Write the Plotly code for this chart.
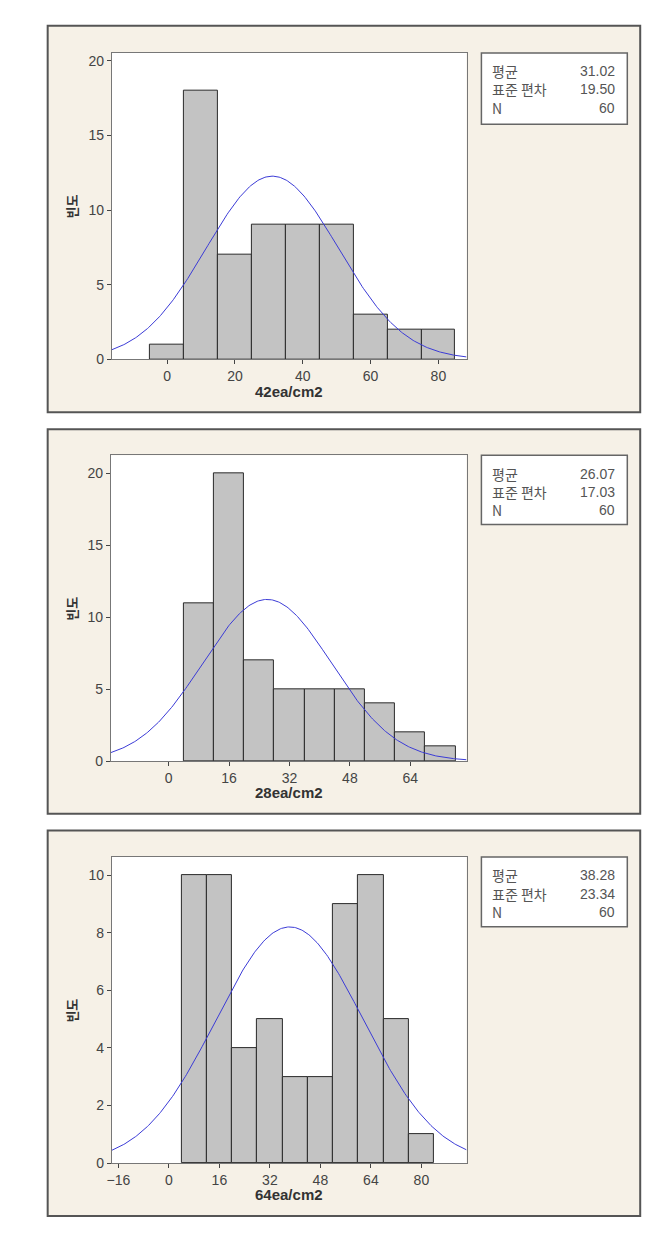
import numpy as np
import plotly.graph_objects as go

W, H = 668, 1234

# ---- data ----
titles = ["42ea/cm2", "28ea/cm2", "64ea/cm2"]
centers_1 = [0, 10, 20, 30, 40, 50, 60, 70, 80]
counts_1 = [1, 18, 7, 9, 9, 9, 3, 2, 2]
centers_2 = [8, 16, 24, 32, 40, 48, 56, 64, 72]
counts_2 = [11, 20, 7, 5, 5, 5, 4, 2, 1]
centers_3 = [8, 16, 24, 32, 40, 48, 56, 64, 72, 80]
counts_3 = [10, 10, 4, 5, 3, 3, 9, 10, 5, 1]
bin_widths = [10, 8, 8]
means = [31.02, 26.07, 38.28]
stdevs = [19.50, 17.03, 23.34]
ns = [60, 60, 60]
mean_labels = ["31.02", "26.07", "38.28"]
sd_labels = ["19.50", "17.03", "23.34"]
n_labels = ["60", "60", "60"]
xticks_1 = [0, 20, 40, 60, 80]
xticks_2 = [0, 16, 32, 48, 64]
xticks_3 = [-16, 0, 16, 32, 48, 64, 80]
yticks_1 = [0, 5, 10, 15, 20]
yticks_2 = [0, 5, 10, 15, 20]
yticks_3 = [0, 2, 4, 6, 8, 10]

centers = [centers_1, centers_2, centers_3]
counts = [counts_1, counts_2, counts_3]
xticks = [xticks_1, xticks_2, xticks_3]
yticks = [yticks_1, yticks_2, yticks_3]

# ---- layout geometry (pixels) ----
frames = [(43, 26, 640, 415), (43, 432, 640, 819), (43, 836, 640, 1224)]
plots = [(107.7, 53, 465, 361.7), (106.7, 458.3, 465, 766), (107.7, 862.7, 465, 1170.7)]
xranges = [[-16.3, 88.3], [-15.3, 78.9], [-18.05, 94.3]]
yranges = [[0, 20.55], [0, 21.27], [0, 10.63]]
boxes = [(480, 53.3, 627, 125), (480, 458.3, 627, 528), (480, 862.7, 627, 932.7)]

def px(x):
    return x / W

def py(y):
    return 1 - y / H

FRAME_BG = "#F6F1E7"
TICK_FONT = dict(family="Liberation Sans, Arial, sans-serif", size=14, color="#444444")
KR = "Noto Sans CJK KR, sans-serif"

fig = go.Figure()
shapes = []
annotations = []

for i in range(3):
    sfx = "" if i == 0 else str(i + 1)
    xa, ya = "x" + sfx, "y" + sfx
    fx0, fy0, fx1, fy1 = frames[i]
    shapes.append(dict(type="rect", xref="paper", yref="paper",
                       x0=px(fx0), x1=px(fx1), y0=py(fy1), y1=py(fy0),
                       fillcolor=FRAME_BG, line=dict(color="#555555", width=2), layer="below"))
    x0, y0, x1, y1 = plots[i]
    shapes.append(dict(type="rect", xref="paper", yref="paper",
                       x0=px(x0), x1=px(x1), y0=py(y1), y1=py(y0),
                       fillcolor="white", line=dict(width=0), layer="below"))

    fig.add_trace(go.Bar(x=centers[i], y=counts[i], width=bin_widths[i],
                         marker=dict(color="#C3C3C3", line=dict(color="#2a2a2a", width=1)),
                         xaxis=xa, yaxis=ya, showlegend=False, hoverinfo="x+y"))
    xs = np.linspace(xranges[i][0], xranges[i][1], 300)
    ys = ns[i] * bin_widths[i] / (stdevs[i] * np.sqrt(2 * np.pi)) * np.exp(-0.5 * ((xs - means[i]) / stdevs[i]) ** 2)
    fig.add_trace(go.Scatter(x=xs, y=ys, mode="lines", line=dict(color="#3B3BD6", width=1),
                             xaxis=xa, yaxis=ya, showlegend=False, hoverinfo="skip"))

    fig.layout["xaxis" + sfx] = dict(
        domain=[px(x0), px(x1)], anchor=ya, range=xranges[i],
        tickmode="array", tickvals=xticks[i], ticks="outside", ticklen=4, tickcolor="#444",
        showgrid=False, zeroline=False, showline=True, linecolor="#777", linewidth=1, mirror=True,
        tickfont=TICK_FONT, fixedrange=True)
    fig.layout["yaxis" + sfx] = dict(
        domain=[py(y1), py(y0)], anchor=xa, range=yranges[i],
        tickmode="array", tickvals=yticks[i], ticks="outside", ticklen=4, tickcolor="#444",
        showgrid=False, zeroline=False, showline=True, linecolor="#777", linewidth=1, mirror=True,
        tickfont=TICK_FONT, fixedrange=True)

    # axis titles
    annotations.append(dict(xref="paper", yref="paper", x=px((x0 + x1) / 2), y=py(y1 + 32),
                            text="<b>" + titles[i] + "</b>", showarrow=False,
                            font=dict(family="Liberation Sans, Arial, sans-serif", size=15, color="#333"),
                            xanchor="center", yanchor="middle"))
    annotations.append(dict(xref="paper", yref="paper", x=px(67), y=py((y0 + y1) / 2),
                            text="<b>빈도</b>", textangle=-90, showarrow=False,
                            font=dict(family=KR, size=13, color="#333"),
                            xanchor="center", yanchor="middle"))

    # stats box
    bx0, by0, bx1, by1 = boxes[i]
    shapes.append(dict(type="rect", xref="paper", yref="paper",
                       x0=px(bx0), x1=px(bx1), y0=py(by1), y1=py(by0),
                       fillcolor="white", line=dict(color="#666666", width=1.5)))
    rows = [("평균", mean_labels[i]), ("표준 편차", sd_labels[i]), ("N", n_labels[i])]
    for r, (lab, val) in enumerate(rows):
        yy = by0 + 18.4 + r * 18.3
        annotations.append(dict(xref="paper", yref="paper", x=px(bx0 + 9), y=py(yy),
                                text=lab, showarrow=False, xanchor="left", yanchor="middle",
                                font=dict(family=KR, size=14, color="#555")))
        annotations.append(dict(xref="paper", yref="paper", x=px(bx1 - 10), y=py(yy),
                                text=val, showarrow=False, xanchor="right", yanchor="middle",
                                font=dict(family="Liberation Sans, Arial, sans-serif", size=14, color="#555")))

fig.update_layout(width=W, height=H, margin=dict(l=0, r=0, t=0, b=0),
                  paper_bgcolor="white", plot_bgcolor="white",
                  shapes=shapes, annotations=annotations, bargap=0, showlegend=False)

fig.write_html("out.html", config={"displayModeBar": False},
               post_script="document.body.style.margin='0px';document.body.style.overflow='hidden';")
